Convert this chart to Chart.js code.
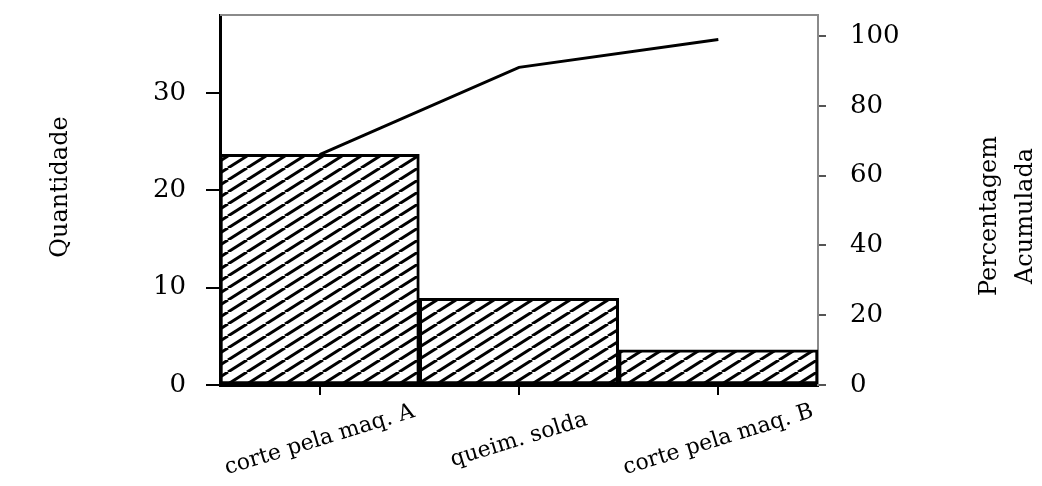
<!DOCTYPE html>
<html>
<head>
<meta charset="utf-8">
<script src="https://cdn.jsdelivr.net/npm/chart.js@4"></script>
<style>
  html, body { margin: 0; padding: 0; background: #fff; }
  #grafico { display: block; }
</style>
</head>
<body>
<canvas id="grafico" width="1042" height="486"></canvas>
<script>
/* DATOS */
const categorias = ['corte pela maq. A', 'queim. solda', 'corte pela maq. B'];
const quantidades = [23.7, 8.9, 3.6];
const percentAcum = [66, 91, 99];
const ticksQtd = [0, 10, 20, 30];
const ticksPct = [0, 20, 40, 60, 80, 100];

const fuente = 'DejaVu Serif';

/* trama de rayas diagonales para las barras */
function crearTrama() {
  let c = document.createElement('canvas');
  c.width = 19;
  c.height = 12;
  let g = c.getContext('2d');
  g.fillStyle = '#fff';
  g.fillRect(0, 0, 19, 12);
  g.strokeStyle = '#000';
  g.lineWidth = 3;
  [-19, 0, 19].forEach(dx => {
    g.beginPath();
    g.moveTo(dx, 12);
    g.lineTo(dx + 19, 0);
    g.stroke();
  });
  return g.createPattern(c, 'repeat');
}

/* titulos, borde superior y etiquetas giradas */
const extras = {
  id: 'extras',
  afterDraw(chart) {
    const ctx = chart.ctx;
    const area = chart.chartArea;

    ctx.save();
    ctx.strokeStyle = '#8a8a8a';
    ctx.lineWidth = 2;
    ctx.beginPath();
    ctx.moveTo(area.left, area.top);
    ctx.lineTo(area.right, area.top);
    ctx.stroke();
    ctx.restore();

    ctx.save();
    ctx.fillStyle = '#000';
    ctx.font = '24px "' + fuente + '"';
    ctx.textAlign = 'center';
    ctx.textBaseline = 'middle';

    ctx.save();
    ctx.translate(61, 187);
    ctx.rotate(-Math.PI / 2);
    ctx.fillText('Quantidade', 0, 0);
    ctx.restore();

    ctx.save();
    ctx.translate(990, 216);
    ctx.rotate(-Math.PI / 2);
    ctx.fillText('Percentagem', 0, 0);
    ctx.restore();

    ctx.save();
    ctx.translate(1026, 216);
    ctx.rotate(-Math.PI / 2);
    ctx.fillText('Acumulada', 0, 0);
    ctx.restore();

    ctx.font = '22px "' + fuente + '"';
    const ejeX = chart.scales.x;
    categorias.forEach((cat, i) => {
      ctx.save();
      ctx.translate(ejeX.getPixelForValue(i), 440);
      ctx.rotate(-17 * Math.PI / 180);
      ctx.fillText(cat, 0, 0);
      ctx.restore();
    });
    ctx.restore();
  }
};

const grafica = document.getElementById('grafico').getContext('2d');

new Chart(grafica, {
  type: 'bar',
  data: {
    labels: categorias,
    datasets: [{
      type: 'line',
      label: 'Percentagem Acumulada',
      data: percentAcum,
      yAxisID: 'y1',
      borderColor: '#000',
      borderWidth: 3,
      pointRadius: 0,
      fill: false,
      tension: 0,
      order: 0
    }, {
      label: 'Quantidade',
      data: quantidades,
      yAxisID: 'y',
      backgroundColor: crearTrama(),
      borderColor: '#000',
      borderWidth: 3,
      borderSkipped: false,
      barPercentage: 1,
      categoryPercentage: 1,
      order: 1
    }]
  },
  options: {
    responsive: false,
    animation: false,
    devicePixelRatio: 1,
    layout: {
      padding: { top: 15, left: 0, right: 0, bottom: 0 }
    },
    plugins: {
      legend: { display: false },
      tooltip: { enabled: false }
    },
    scales: {
      x: {
        offset: true,
        ticks: { display: false },
        grid: {
          offset: false,
          drawOnChartArea: false,
          tickLength: 10,
          color: '#000',
          lineWidth: 2
        },
        border: { color: '#000', width: 3 },
        afterFit: s => { s.height = 101; }
      },
      y: {
        position: 'left',
        min: 0,
        max: 38,
        afterBuildTicks: s => { s.ticks = ticksQtd.map(v => ({ value: v })); },
        afterFit: s => { s.width = 220; s.paddingTop = 0; s.paddingBottom = 0; },
        ticks: {
          color: '#000',
          padding: 20,
          font: { family: fuente, size: 26 }
        },
        grid: {
          drawOnChartArea: false,
          tickLength: 14,
          color: '#000',
          lineWidth: 2
        },
        border: { color: '#000', width: 3 }
      },
      y1: {
        position: 'right',
        min: 0,
        max: 106,
        afterBuildTicks: s => { s.ticks = ticksPct.map(v => ({ value: v })); },
        afterFit: s => { s.width = 224; s.paddingTop = 0; s.paddingBottom = 0; },
        ticks: {
          color: '#000',
          padding: 24,
          font: { family: fuente, size: 26 }
        },
        grid: {
          drawOnChartArea: false,
          tickLength: 8,
          color: '#555',
          lineWidth: 2
        },
        border: { color: '#8a8a8a', width: 2 }
      }
    }
  },
  plugins: [extras]
});
</script>
</body>
</html>
